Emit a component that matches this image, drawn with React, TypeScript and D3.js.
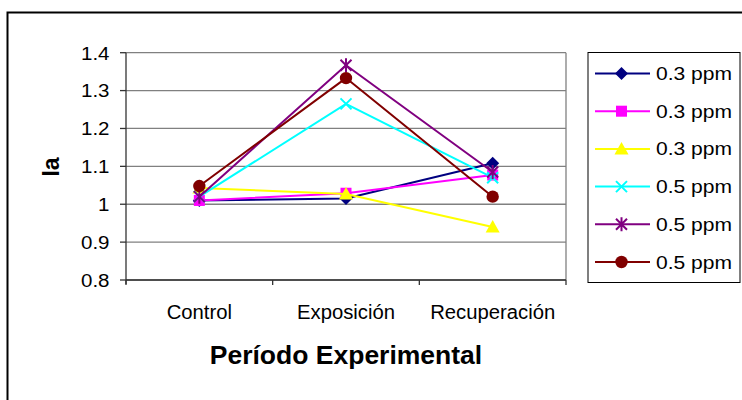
import React from "react";
import * as d3 from "d3";

const categories = ["Control", "Exposición", "Recuperación"];
const seriesNames = ["0.3 ppm", "0.3 ppm", "0.3 ppm", "0.5 ppm", "0.5 ppm", "0.5 ppm"];
const seriesColors = ["#000080", "#FF00FF", "#FFFF00", "#00FFFF", "#800080", "#800000"];
const seriesMarkers = ["diamond", "square", "triangle", "x", "star", "circle"];
const s1 = [1.01, 1.015, 1.108];
const s2 = [1.01, 1.029, 1.077];
const s3 = [1.043, 1.027, 0.94];
const s4 = [1.02, 1.265, 1.07];
const s5 = [1.02, 1.367, 1.085];
const s6 = [1.048, 1.333, 1.02];
const seriesValues = [s1, s2, s3, s4, s5, s6];
const yTicks = [0.8, 0.9, 1, 1.1, 1.2, 1.3, 1.4];

const W = 742, H = 400;
const plot = { left: 126, right: 566, top: 52.7, bottom: 280 };

function Marker({ type, x, y, color }: { type: string; x: number; y: number; color: string }) {
  switch (type) {
    case "diamond":
      return <path d={`M${x},${y - 6.5}L${x + 6.5},${y}L${x},${y + 6.5}L${x - 6.5},${y}Z`} fill={color} />;
    case "square":
      return <rect x={x - 5.5} y={y - 5.5} width={11} height={11} fill={color} />;
    case "triangle":
      return <path d={`M${x},${y - 7}L${x + 7},${y + 5.5}L${x - 7},${y + 5.5}Z`} fill={color} />;
    case "x":
      return (
        <path d={`M${x - 5.5},${y - 5.5}L${x + 5.5},${y + 5.5}M${x - 5.5},${y + 5.5}L${x + 5.5},${y - 5.5}`} stroke={color} strokeWidth={2} />
      );
    case "star":
      return (
        <path
          d={`M${x - 5.5},${y - 5.5}L${x + 5.5},${y + 5.5}M${x - 5.5},${y + 5.5}L${x + 5.5},${y - 5.5}M${x},${y - 7}L${x},${y + 7}`}
          stroke={color}
          strokeWidth={2}
        />
      );
    default:
      return <circle cx={x} cy={y} r={6.2} fill={color} />;
  }
}

export default function App() {
  const x = d3.scaleBand<string>().domain(categories).range([plot.left, plot.right]);
  const y = d3.scaleLinear().domain([0.8, 1.4]).range([plot.bottom, plot.top]);
  const cx = (c: string) => (x(c) as number) + x.bandwidth() / 2;
  const line = d3
    .line<number>()
    .x((_, i) => cx(categories[i]))
    .y((v) => y(v));
  const font = "'Liberation Sans', Arial, sans-serif";
  const legendX = 588, legendY = 52.5, legendW = 152, legendH = 230;
  const rowY = (i: number) => 73.5 + i * 37.7;

  return (
    <svg width={W} height={H} style={{ position: "absolute", left: 0, top: 0, background: "#fff" }} fontFamily={font}>
      <rect x={0} y={0} width={W} height={H} fill="#fff" />
      {/* outer chart border */}
      <path d={`M7.5,${H}L7.5,12.5L${W},12.5`} fill="none" stroke="#000" strokeWidth={2} />

      {/* gridlines */}
      {yTicks.map((t) => (
        <line key={t} x1={plot.left} x2={plot.right} y1={y(t)} y2={y(t)} stroke="#808080" strokeWidth={1.3} />
      ))}
      <line x1={plot.right} x2={plot.right} y1={plot.top} y2={plot.bottom} stroke="#808080" strokeWidth={1.3} />

      {/* axes */}
      <line x1={plot.left} x2={plot.left} y1={plot.top} y2={plot.bottom + 4} stroke="#333" strokeWidth={1.3} />
      <line x1={plot.left} x2={plot.right} y1={plot.bottom} y2={plot.bottom} stroke="#333" strokeWidth={1.3} />
      {yTicks.map((t) => (
        <g key={"yt" + t}>
          <line x1={plot.left - 6} x2={plot.left} y1={y(t)} y2={y(t)} stroke="#333" strokeWidth={1.3} />
          <text transform={`translate(109.5,${y(t)}) scale(1.08,1)`} dy="0.36em" textAnchor="end" fontSize={19} fill="#000">
            {d3.format("")(t)}
          </text>
        </g>
      ))}
      {categories.map((c) => (
        <line key={"xt" + c} x1={x(c) as number} x2={x(c) as number} y1={plot.bottom} y2={plot.bottom + 5} stroke="#333" strokeWidth={1.3} />
      ))}
      <line x1={plot.right} x2={plot.right} y1={plot.bottom} y2={plot.bottom + 5} stroke="#333" strokeWidth={1.3} />
      {categories.map((c) => (
        <text key={"xl" + c} transform={`translate(${cx(c)},311.5) scale(1.04,1)`} dy="0.36em" textAnchor="middle" fontSize={19.5} fill="#000">
          {c}
        </text>
      ))}

      {/* axis titles */}
      <text x={346} y={354} dy="0.36em" textAnchor="middle" fontSize={26.5} fontWeight="bold" fill="#000">
        Período Experimental
      </text>
      <text
        transform={`translate(51,167) rotate(-90)`}
        dy="0.36em"
        textAnchor="middle"
        fontSize={23}
        fontWeight="bold"
        fill="#000"
      >
        Ia
      </text>

      {/* series */}
      {seriesValues.map((vals, si) => (
        <g key={"s" + si}>
          <path d={line(vals) as string} fill="none" stroke={seriesColors[si]} strokeWidth={2} />
          {vals.map((v, i) => (
            <Marker key={i} type={seriesMarkers[si]} x={cx(categories[i])} y={y(v)} color={seriesColors[si]} />
          ))}
        </g>
      ))}

      {/* legend */}
      <rect x={legendX} y={legendY} width={legendW} height={legendH} fill="#fff" stroke="#000" strokeWidth={1} />
      {seriesNames.map((n, i) => (
        <g key={"lg" + i}>
          <line x1={595} x2={650} y1={rowY(i)} y2={rowY(i)} stroke={seriesColors[i]} strokeWidth={2} />
          <Marker type={seriesMarkers[i]} x={621.5} y={rowY(i)} color={seriesColors[i]} />
          <text transform={`translate(656,${rowY(i)}) scale(1.15,1)`} dy="0.36em" fontSize={18.3} fill="#000">
            {n}
          </text>
        </g>
      ))}
    </svg>
  );
}
